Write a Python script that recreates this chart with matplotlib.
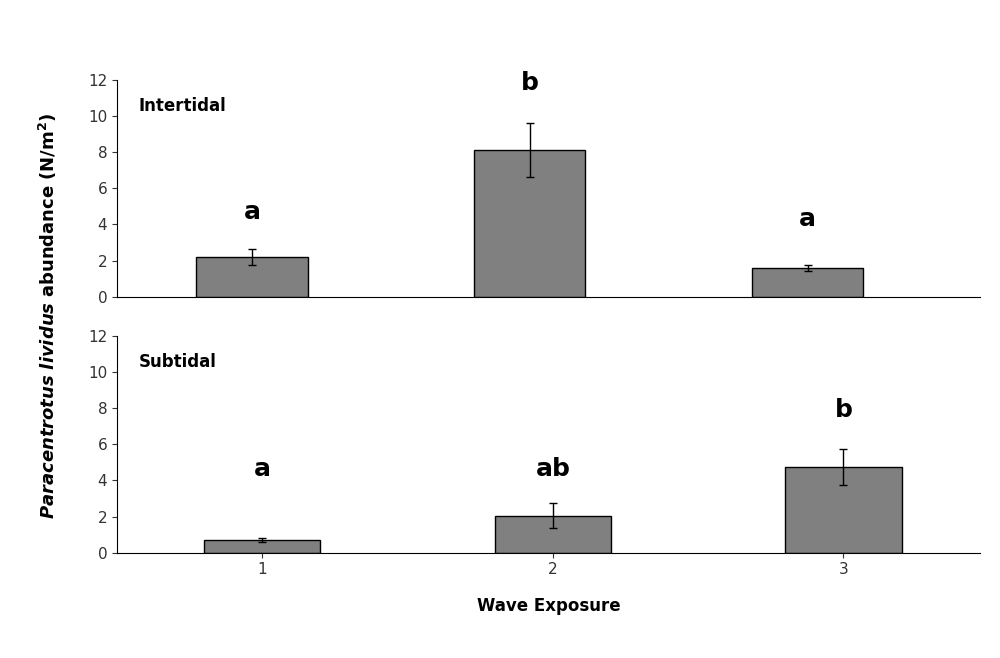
import matplotlib.pyplot as plt

exposure = [1, 2, 3]
inter_mean = [2.2, 8.1, 1.6]
inter_err = [0.45, 1.5, 0.18]
inter_letters = ['a', 'b', 'a']
inter_letter_y = [4.7, 11.8, 4.3]
sub_mean = [0.7, 2.05, 4.75]
sub_err = [0.12, 0.7, 1.0]
sub_letters = ['a', 'ab', 'b']
sub_letter_y = [4.6, 4.6, 7.9]


def panel(ax, means, errs, letters, letter_y, title, xlim):
    ax.bar(exposure, means, width=0.4, color='#808080', edgecolor='black', linewidth=1)
    ax.errorbar(exposure, means, yerr=errs, fmt='none', ecolor='black', capsize=3, elinewidth=1)
    for x, ly, l in zip(exposure, letter_y, letters):
        ax.text(x, ly, l, ha='center', va='center', fontsize=18, fontweight='bold')
    ax.set_ylim(0, 12)
    ax.set_yticks(range(0, 13, 2))
    ax.set_xlim(*xlim)
    ax.set_xticks(exposure)
    ax.spines['top'].set_visible(False)
    ax.spines['right'].set_visible(False)
    ax.tick_params(labelsize=11, colors='#333333')
    ax.text(0.025, 0.88, title, transform=ax.transAxes, fontsize=12, fontweight='bold',
            va='center')


fig = plt.figure(figsize=(10, 6.58), dpi=100)
ax1 = fig.add_axes([0.117, 0.549, 0.863, 0.330])
ax2 = fig.add_axes([0.117, 0.160, 0.863, 0.330])
panel(ax1, inter_mean, inter_err, inter_letters, inter_letter_y, 'Intertidal', (0.514, 3.62))
ax1.set_xticks([])
panel(ax2, sub_mean, sub_err, sub_letters, sub_letter_y, 'Subtidal', (0.5, 3.47))
ax2.set_xlabel('Wave Exposure', fontsize=12, fontweight='bold', labelpad=14)
fig.text(0.048, 0.52, r'$\mathbfit{Paracentrotus\ lividus}$ $\bf{abundance\ (N/m^2)}$',
         rotation=90, ha='center', va='center', fontsize=13)
fig.savefig('out.png', dpi=100)
